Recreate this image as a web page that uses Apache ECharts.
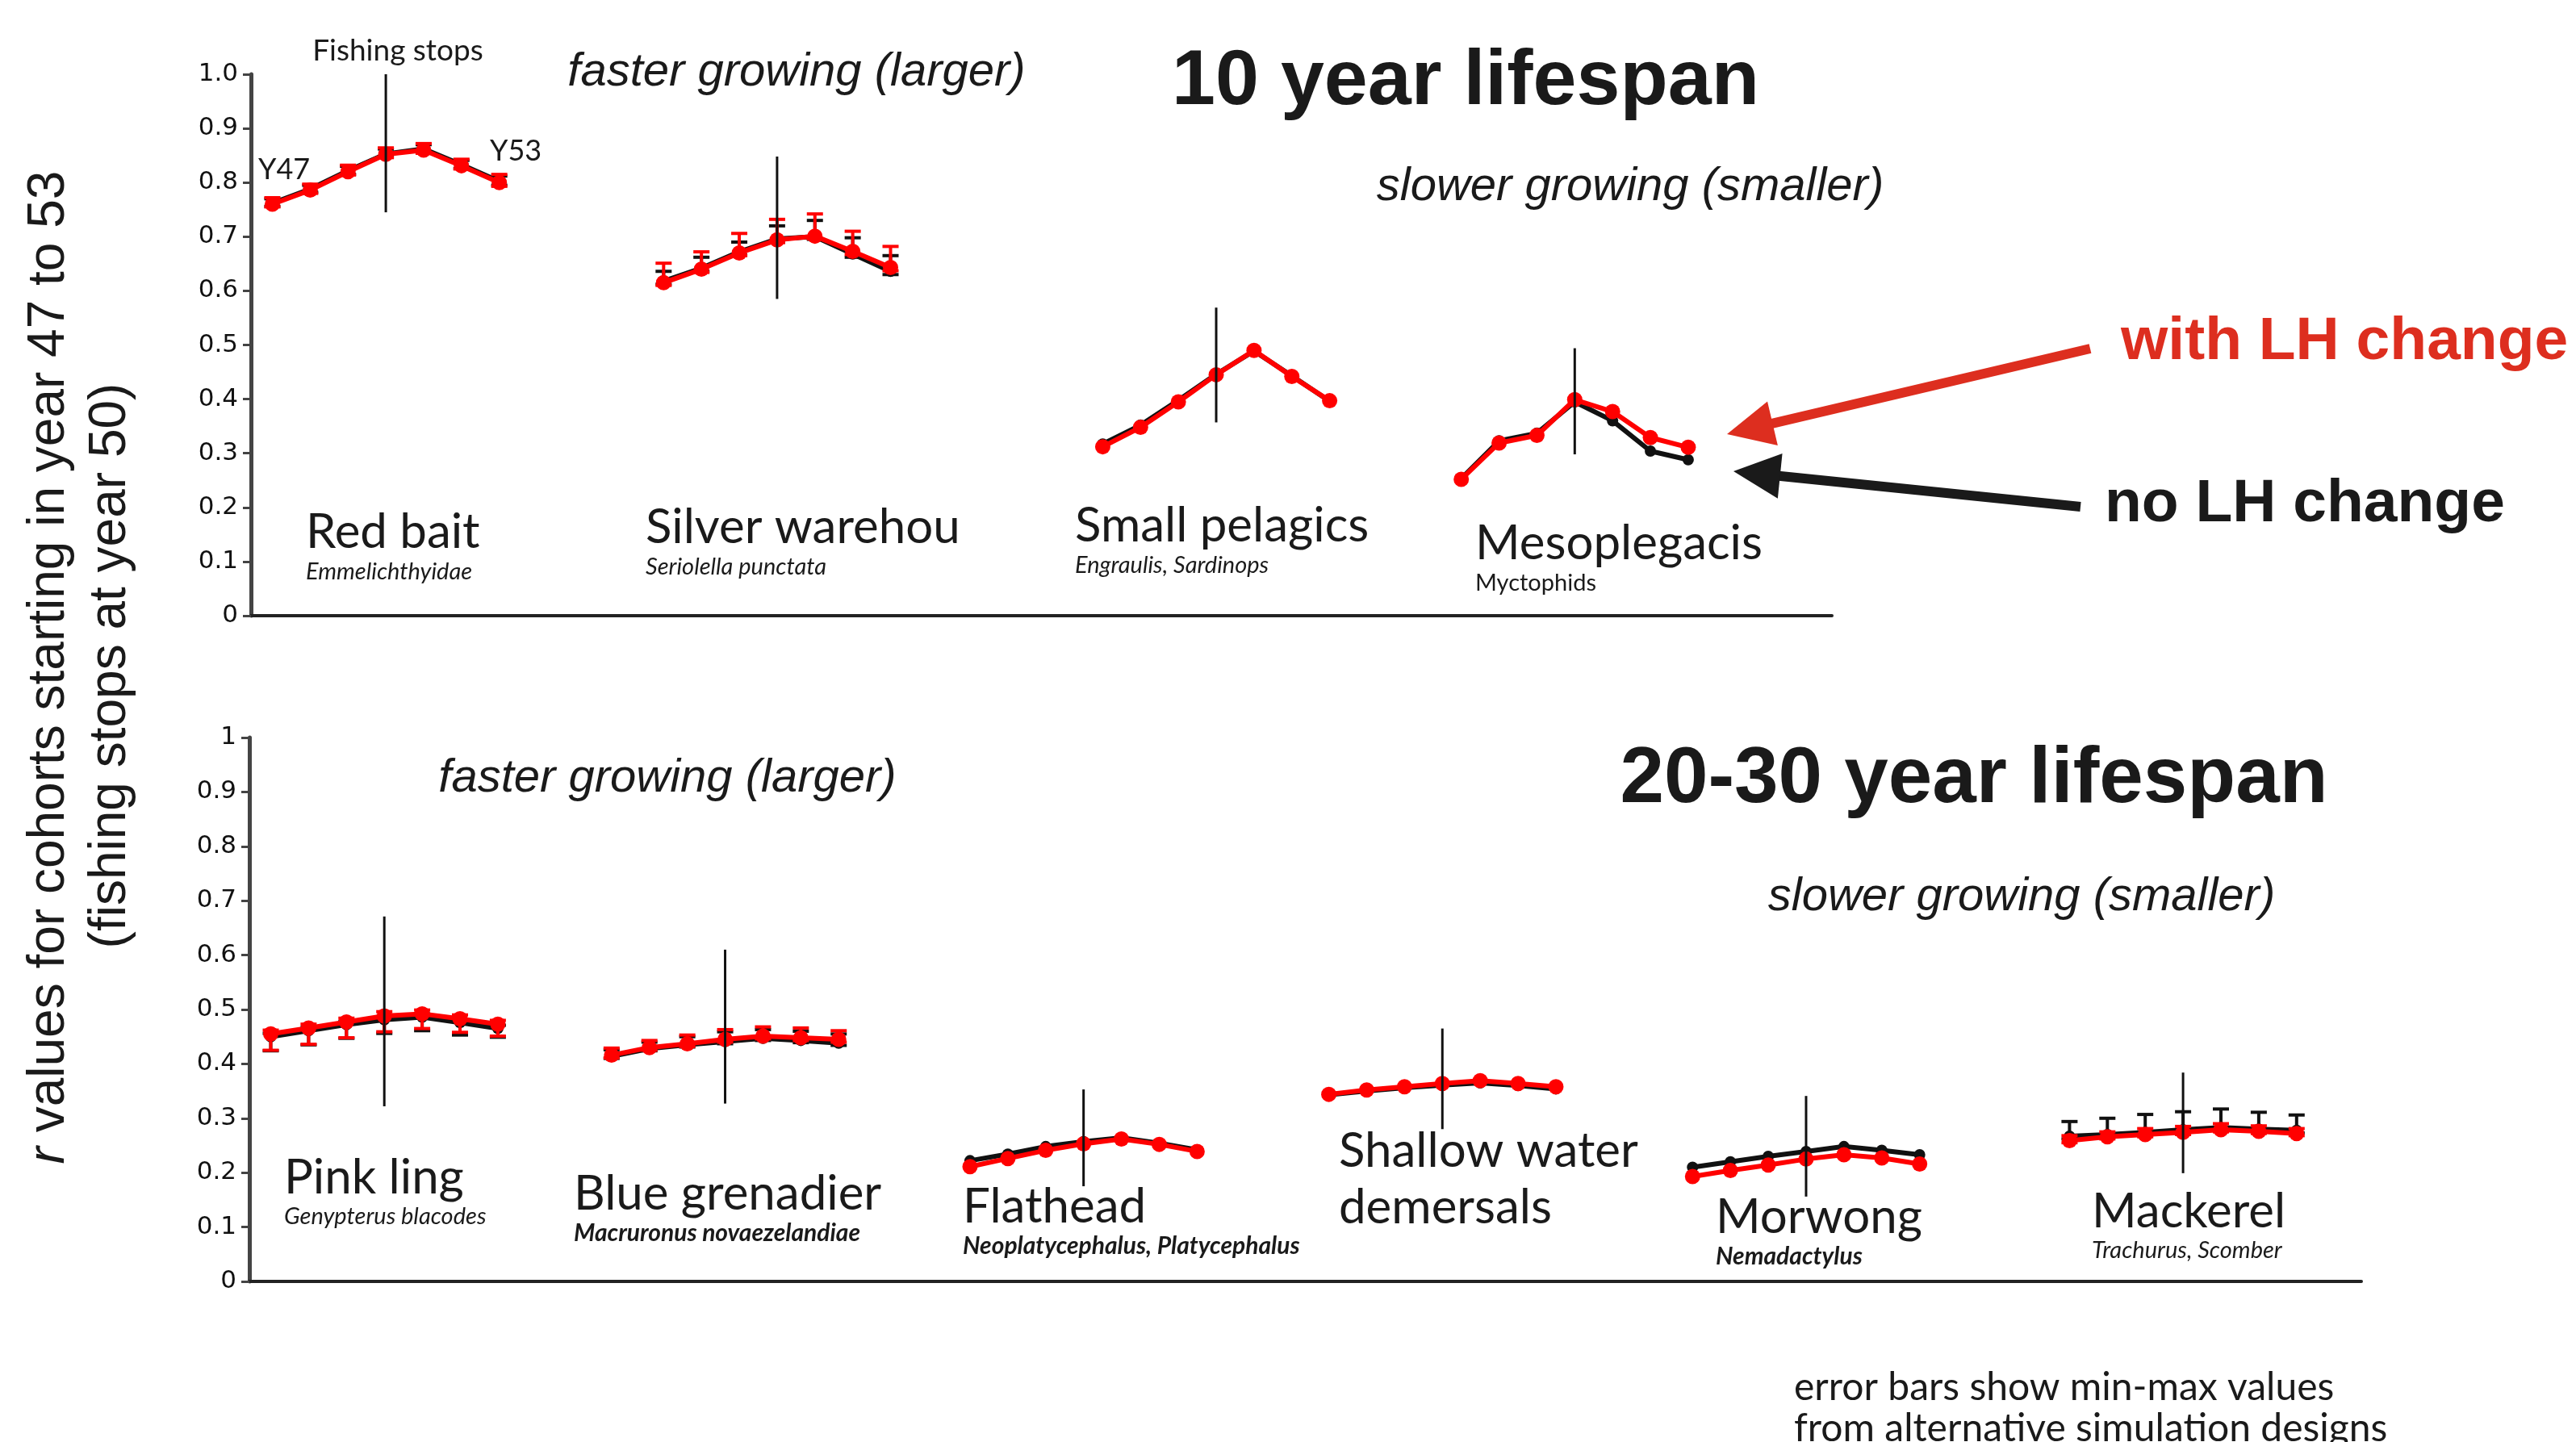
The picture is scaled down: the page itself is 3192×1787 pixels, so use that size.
<!DOCTYPE html>
<html>
<head>
<meta charset="utf-8">
<script src="https://cdn.jsdelivr.net/npm/echarts@6/dist/echarts.min.js"></script>
<style>
  html, body { margin: 0; padding: 0; background: #fff; }
  #chart { width: 3192px; height: 1787px; }
</style>
</head>
<body>
<div id="chart"></div>
<script>
// ---- data: r values for cohorts Y47..Y53 (fishing stops at Y50) ----
var years = ['Y47', 'Y48', 'Y49', 'Y50', 'Y51', 'Y52', 'Y53'];

// 10 year lifespan
var topNames = ['Red bait', 'Silver warehou', 'Small pelagics', 'Mesoplegacis'];
var topLatin = ['Emmelichthyidae', 'Seriolella punctata', 'Engraulis, Sardinops', 'Myctophids'];
var topStart = [0.565, 10.91, 22.52, 32.0];
var topNoLH = [
  [0.762, 0.788, 0.822, 0.853, 0.862, 0.833, 0.802],
  [0.618, 0.642, 0.672, 0.696, 0.700, 0.668, 0.636],
  [0.317, 0.352, 0.398, 0.446, 0.489, 0.443, 0.396],
  [0.253, 0.323, 0.337, 0.395, 0.360, 0.304, 0.288]
];
var topLH = [
  [0.760, 0.786, 0.820, 0.852, 0.860, 0.831, 0.800],
  [0.615, 0.640, 0.670, 0.694, 0.701, 0.673, 0.643],
  [0.312, 0.348, 0.395, 0.445, 0.490, 0.442, 0.397],
  [0.252, 0.319, 0.333, 0.399, 0.377, 0.329, 0.311]
];
var topNoLHMin = [[0.756, 0.782, 0.815, 0.847, 0.855, 0.826, 0.795], [0.612, 0.636, 0.666, 0.690, 0.695, 0.662, 0.630], null, null];
var topNoLHMax = [[0.770, 0.795, 0.830, 0.862, 0.870, 0.841, 0.812], [0.636, 0.662, 0.690, 0.720, 0.730, 0.698, 0.665], null, null];
var topLHMin = [[0.755, 0.780, 0.814, 0.846, 0.854, 0.825, 0.793], [0.610, 0.634, 0.665, 0.689, 0.696, 0.667, 0.637], null, null];
var topLHMax = [[0.772, 0.797, 0.832, 0.864, 0.872, 0.843, 0.815], [0.651, 0.672, 0.706, 0.732, 0.742, 0.710, 0.682], null, null];
var topStop = [[0.745, 1.0], [0.585, 0.848], [0.357, 0.569], [0.298, 0.494]];

// 20-30 year lifespan
var botNames = ['Pink ling', 'Blue grenadier', 'Flathead', 'Shallow water\ndemersals', 'Morwong', 'Mackerel'];
var botLatin = ['Genypterus blacodes', 'Macruronus novaezelandiae', 'Neoplatycephalus, Platycephalus', '', 'Nemadactylus', 'Trachurus, Scomber'];
var botStart = [0.565, 9.57, 19.04, 28.52, 38.13, 48.09];
var botNoLH = [
  [0.450, 0.461, 0.472, 0.481, 0.486, 0.476, 0.465],
  [0.414, 0.428, 0.435, 0.441, 0.447, 0.443, 0.438],
  [0.222, 0.234, 0.248, 0.257, 0.264, 0.254, 0.242],
  [0.343, 0.350, 0.356, 0.361, 0.365, 0.360, 0.354],
  [0.210, 0.220, 0.230, 0.239, 0.248, 0.241, 0.233],
  [0.267, 0.270, 0.274, 0.279, 0.283, 0.280, 0.278]
];
var botLH = [
  [0.455, 0.466, 0.477, 0.488, 0.492, 0.483, 0.473],
  [0.416, 0.430, 0.437, 0.445, 0.451, 0.448, 0.445],
  [0.211, 0.226, 0.241, 0.253, 0.262, 0.252, 0.239],
  [0.344, 0.352, 0.358, 0.364, 0.369, 0.364, 0.358],
  [0.193, 0.204, 0.214, 0.225, 0.233, 0.227, 0.216],
  [0.259, 0.266, 0.270, 0.274, 0.279, 0.276, 0.272]
];
var botNoLHMin = [[0.424, 0.435, 0.447, 0.456, 0.461, 0.453, 0.449], [0.410, 0.424, 0.431, 0.437, 0.443, 0.439, 0.434], null, null, null, [0.262, 0.265, 0.269, 0.274, 0.278, 0.275, 0.273]];
var botNoLHMax = [[0.456, 0.467, 0.478, 0.487, 0.492, 0.482, 0.471], [0.426, 0.440, 0.450, 0.459, 0.463, 0.460, 0.455], null, null, null, [0.294, 0.300, 0.307, 0.312, 0.317, 0.311, 0.306]];
var botLHMin = [[0.425, 0.436, 0.448, 0.459, 0.465, 0.458, 0.451], [0.411, 0.425, 0.432, 0.440, 0.446, 0.443, 0.440], null, null, null, [0.255, 0.262, 0.266, 0.270, 0.275, 0.272, 0.268]];
var botLHMax = [[0.462, 0.473, 0.484, 0.496, 0.499, 0.490, 0.480], [0.429, 0.443, 0.453, 0.463, 0.468, 0.466, 0.461], null, null, null, [0.268, 0.275, 0.281, 0.285, 0.290, 0.286, 0.281]];
var botStop = [[0.322, 0.671], [0.327, 0.610], [0.175, 0.353], [0.280, 0.465], [0.156, 0.341], [0.199, 0.384]];

var topTicks = ['0', '0.1', '0.2', '0.3', '0.4', '0.5', '0.6', '0.7', '0.8', '0.9', '1.0'];
var botTicks = ['0', '0.1', '0.2', '0.3', '0.4', '0.5', '0.6', '0.7', '0.8', '0.9', '1'];

// ---- layout (pixels) ----
var topLabelPos = [[379, 660], [800, 654], [1332, 652], [1828, 674]];
var botLabelPos = [[352, 1460], [711, 1480], [1193, 1496], [1659, 1462], [2126, 1509], [2592, 1502]];
var botLatinStyle = ['italic', 'boldItalic', 'boldItalic', '', 'boldItalic', 'italic'];

var RED = '#ff0000', BLACK = '#111111';
var myChart = echarts.init(document.getElementById('chart'));

function errRender(color) {
  return function (params, api) {
    var x = api.value(0);
    var lo = api.coord([x, api.value(1)]);
    var hi = api.coord([x, api.value(2)]);
    var w = 10;
    var st = { stroke: color, lineWidth: 4 };
    return {
      type: 'group',
      children: [
        { type: 'line', shape: { x1: lo[0], y1: lo[1], x2: hi[0], y2: hi[1] }, style: st },
        { type: 'line', shape: { x1: hi[0] - w, y1: hi[1], x2: hi[0] + w, y2: hi[1] }, style: st },
        { type: 'line', shape: { x1: lo[0] - w, y1: lo[1], x2: lo[0] + w, y2: lo[1] }, style: st }
      ]
    };
  };
}

function stopRender(params, api) {
  var x = api.value(0);
  var lo = api.coord([x, api.value(1)]);
  var hi = api.coord([x, api.value(2)]);
  return { type: 'line', shape: { x1: lo[0], y1: lo[1], x2: hi[0], y2: hi[1] }, style: { stroke: BLACK, lineWidth: 3 } };
}

var series = [];
function addPanel(idx, starts, noLH, lh, noMin, noMax, lhMin, lhMax, stops) {
  var errNo = [], errLH = [], stopData = [];
  starts.forEach(function (s, g) {
    series.push({
      type: 'line', xAxisIndex: idx, yAxisIndex: idx, z: 3,
      data: noLH[g].map(function (v, i) { return [s + i, v]; }),
      symbol: 'circle', symbolSize: 14, itemStyle: { color: BLACK },
      lineStyle: { color: BLACK, width: 6 }
    });
    series.push({
      type: 'line', xAxisIndex: idx, yAxisIndex: idx, z: 5,
      data: lh[g].map(function (v, i) { return [s + i, v]; }),
      symbol: 'circle', symbolSize: 19, itemStyle: { color: RED },
      lineStyle: { color: RED, width: 6 }
    });
    if (noMin[g]) noMin[g].forEach(function (v, i) { errNo.push([s + i, v, noMax[g][i]]); });
    if (lhMin[g]) lhMin[g].forEach(function (v, i) { errLH.push([s + i, v, lhMax[g][i]]); });
    stopData.push([s + 3, stops[g][0], stops[g][1]]);
  });
  series.push({ type: 'custom', xAxisIndex: idx, yAxisIndex: idx, z: 2, renderItem: errRender(BLACK), data: errNo });
  series.push({ type: 'custom', xAxisIndex: idx, yAxisIndex: idx, z: 4, renderItem: errRender(RED), data: errLH });
  series.push({ type: 'custom', xAxisIndex: idx, yAxisIndex: idx, z: 6, renderItem: stopRender, data: stopData });
}
addPanel(0, topStart, topNoLH, topLH, topNoLHMin, topNoLHMax, topLHMin, topLHMax, topStop);
addPanel(1, botStart, botNoLH, botLH, botNoLHMin, botNoLHMax, botLHMin, botLHMax, botStop);

function xAx(idx, max) {
  return {
    gridIndex: idx, type: 'value', min: 0, max: max,
    axisLine: { show: true, onZero: false, lineStyle: { color: '#222', width: 4 } },
    axisTick: { show: false }, axisLabel: { show: false }, splitLine: { show: false }
  };
}
function yAx(idx, ticks) {
  return {
    gridIndex: idx, type: 'value', min: 0, max: 1, interval: 0.1,
    axisLine: { show: true, lineStyle: { color: '#444', width: 5 } },
    axisTick: { show: true, length: 10, lineStyle: { color: '#444', width: 3 } },
    axisLabel: {
      margin: 16, fontFamily: 'DejaVu Sans', fontSize: 31, color: '#111',
      formatter: function (v) { return ticks[Math.round(v * 10)]; }
    },
    splitLine: { show: false }
  };
}

var graphic = [];
function txt(x, y, text, font, extra) {
  var st = { x: x, y: y, text: text, font: font, fill: '#1a1a1a', textAlign: 'left', textVerticalAlign: 'middle' };
  for (var k in extra) st[k] = extra[k];
  graphic.push({ type: 'text', silent: true, style: st });
}
var NAME_FONT = '60px Lato';
topNames.forEach(function (n, g) {
  var p = topLabelPos[g];
  txt(p[0], p[1], n, NAME_FONT);
  txt(p[0], p[1] + 49, topLatin[g], (g === 3 ? 'normal ' : 'italic ') + '29px Lato');
});
botNames.forEach(function (n, g) {
  var p = botLabelPos[g];
  txt(p[0], p[1], n, NAME_FONT, { lineHeight: 70 });
  if (botLatin[g]) {
    var f = botLatinStyle[g] === 'boldItalic' ? 'italic bold 30px Lato' : 'italic 29px Lato';
    txt(p[0], p[1] + 48, botLatin[g], f);
  }
});
txt(493, 63, 'Fishing stops', '37px Lato', { textAlign: 'center' });
txt(320, 210, years[0], '36px Lato');
txt(607, 187, years[6], '36px Lato');
txt(987, 90, 'faster growing (larger)', 'italic 58px "Liberation Sans"', { textAlign: 'center' });
txt(827, 965, 'faster growing (larger)', 'italic 58px "Liberation Sans"', { textAlign: 'center' });
txt(2020, 232, 'slower growing (smaller)', 'italic 58px "Liberation Sans"', { textAlign: 'center' });
txt(2505, 1112, 'slower growing (smaller)', 'italic 58px "Liberation Sans"', { textAlign: 'center' });
txt(1816, 102, '10 year lifespan', 'bold 97px "Liberation Sans"', { textAlign: 'center' });
txt(2446, 967, '20-30 year lifespan', 'bold 98px "Liberation Sans"', { textAlign: 'center' });
txt(2628, 424, 'with LH change', 'bold 75px "Liberation Sans"', { fill: '#dd2e1f' });
txt(2608, 625, 'no LH change', 'bold 75px "Liberation Sans"', { fill: '#1a1a1a' });
txt(2223, 1720, 'error bars show min-max values', '48px Lato');
txt(2223, 1771, 'from alternative simulation designs', '48px Lato');

// rotated axis title
graphic.push({
  type: 'text', silent: true, x: 61, y: 827, rotation: Math.PI / 2,
  style: {
    text: '{i|r} values for cohorts starting in year 47 to 53', font: '64px "Liberation Sans"',
    fill: '#1a1a1a', textAlign: 'center', textVerticalAlign: 'middle',
    rich: { i: { fontStyle: 'italic', fontSize: 64, fontFamily: 'Liberation Sans' } }
  }
});
graphic.push({
  type: 'text', silent: true, x: 137, y: 825, rotation: Math.PI / 2,
  style: { text: '(fishing stops at year 50)', font: '64px "Liberation Sans"', fill: '#1a1a1a', textAlign: 'center', textVerticalAlign: 'middle' }
});

// arrows pointing at the Mesoplegacis lines
function arrow(x1, y1, x2, y2, color) {
  var dx = x2 - x1, dy = y2 - y1, len = Math.sqrt(dx * dx + dy * dy);
  var ux = dx / len, uy = dy / len, head = 58, hw = 28;
  var bx = x2 - ux * head, by = y2 - uy * head;
  graphic.push({ type: 'line', silent: true, shape: { x1: x1, y1: y1, x2: bx + ux * 4, y2: by + uy * 4 }, style: { stroke: color, lineWidth: 12 } });
  graphic.push({
    type: 'polygon', silent: true,
    shape: { points: [[x2, y2], [bx - uy * hw, by + ux * hw], [bx + uy * hw, by - ux * hw]] },
    style: { fill: color }
  });
}
arrow(2590, 432, 2140, 538, '#dd2e1f');
arrow(2578, 628, 2148, 584, '#1a1a1a');

var option = {
  backgroundColor: '#ffffff',
  animation: false,
  grid: [
    { left: 311, top: 92, width: 1959, height: 671 },
    { left: 309, top: 914, width: 2617, height: 674 }
  ],
  xAxis: [xAx(0, 41.8), xAx(1, 55.8)],
  yAxis: [yAx(0, topTicks), yAx(1, botTicks)],
  series: series,
  graphic: graphic
};
if (option && typeof option === 'object') {
  myChart.setOption(option, true);
}
</script>
</body>
</html>
